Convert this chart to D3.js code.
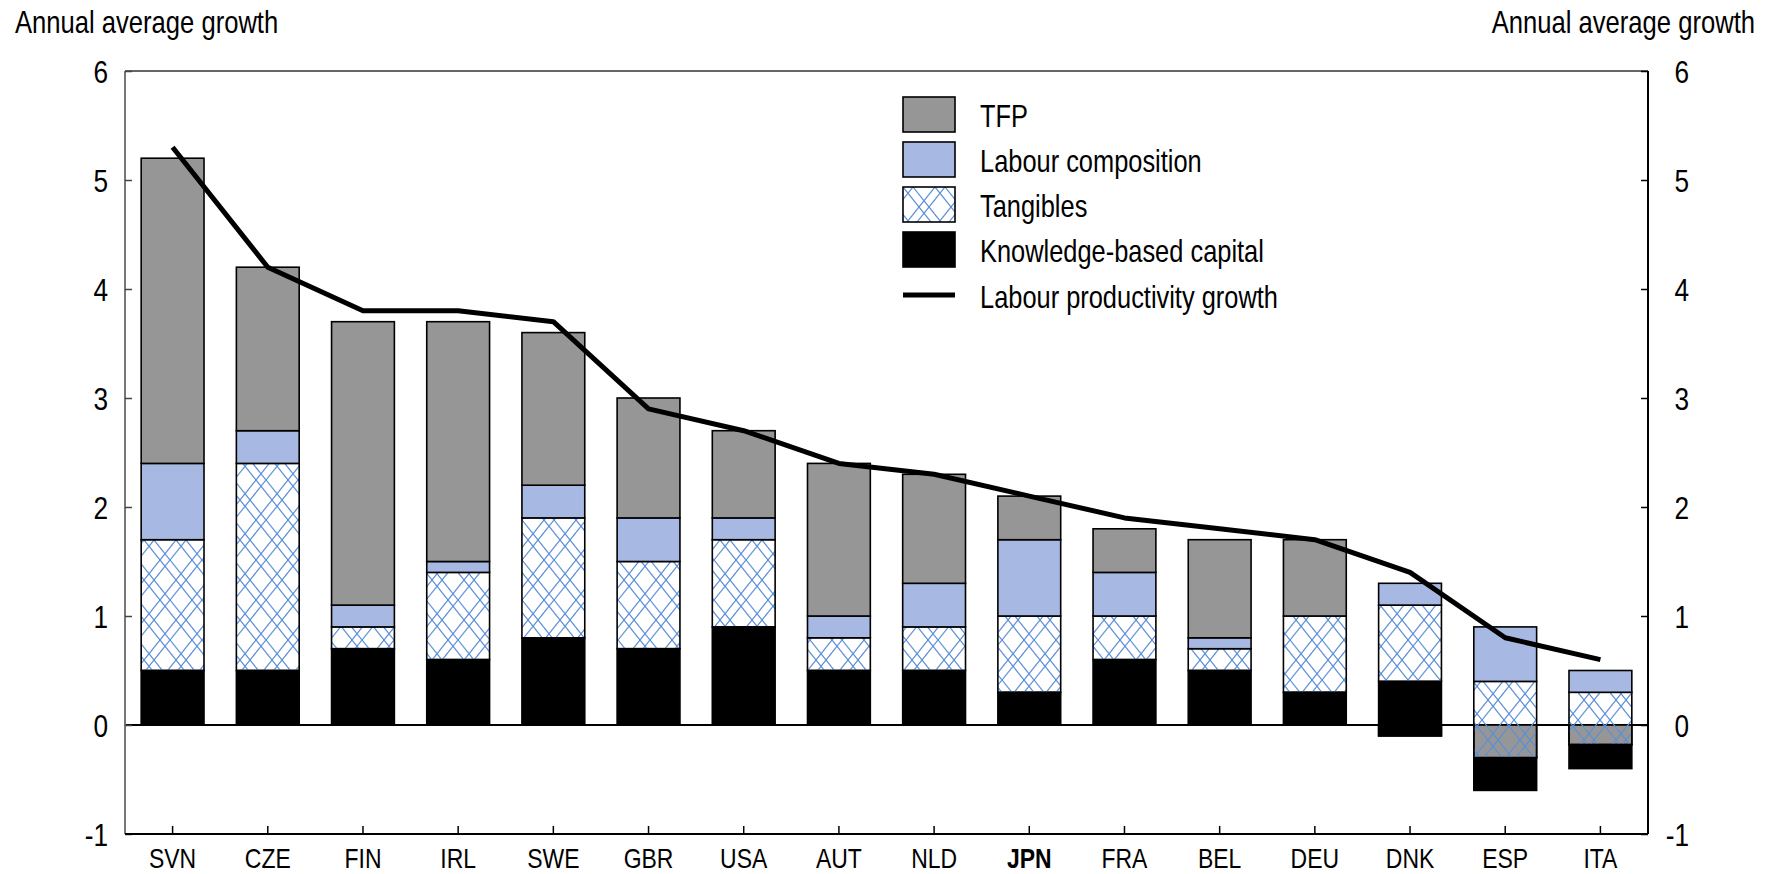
<!DOCTYPE html>
<html>
<head>
<meta charset="utf-8">
<script src="https://cdn.jsdelivr.net/npm/d3@7/dist/d3.min.js"></script>
<style>
  html, body { margin: 0; padding: 0; background: #fff; }
  svg { display: block; }
  text { font-family: 'Liberation Sans', Arial, sans-serif; fill: #000; }
</style>
</head>
<body>
<svg id="chart" width="1773" height="874"></svg>
<script>
// ---- Data (annual average growth, %) ----
const countries = ["SVN","CZE","FIN","IRL","SWE","GBR","USA","AUT","NLD","JPN","FRA","BEL","DEU","DNK","ESP","ITA"];
const kbc       = [0.5, 0.5, 0.7, 0.6, 0.8, 0.7, 0.9, 0.5, 0.5, 0.3, 0.6, 0.5, 0.3, 0.5, -0.3, -0.22];
const tangibles = [1.2, 1.9, 0.2, 0.8, 1.1, 0.8, 0.8, 0.3, 0.4, 0.7, 0.4, 0.2, 0.7, 0.7, 0.7, 0.48];
const labourComp= [0.7, 0.3, 0.2, 0.1, 0.3, 0.4, 0.2, 0.2, 0.4, 0.7, 0.4, 0.1, 0.0, 0.2, 0.5, 0.2];
const tfp       = [2.8, 1.5, 2.6, 2.2, 1.4, 1.1, 0.8, 1.4, 1.0, 0.4, 0.4, 0.9, 0.7, -0.1, -0.3, -0.18];
const lpg       = [5.3, 4.2, 3.8, 3.8, 3.7, 2.9, 2.7, 2.4, 2.3, 2.1, 1.9, 1.8, 1.7, 1.4, 0.8, 0.6];
const yTicks    = [-1, 0, 1, 2, 3, 4, 5, 6];
const axisTitle = "Annual average growth";
const legendItems = [
  {key: "tfp", label: "TFP"},
  {key: "lc", label: "Labour composition"},
  {key: "tang", label: "Tangibles"},
  {key: "kbc", label: "Knowledge-based capital"},
  {key: "line", label: "Labour productivity growth"}
];

// ---- Layout ----
const svg = d3.select("#chart");
const X0 = 125, X1 = 1648, Y0 = 71, Y1 = 834;

const x = d3.scaleBand().domain(countries).range([X0, X1]).paddingInner(0.34).paddingOuter(0.17);
const y = d3.scaleLinear().domain([-1, 6]).range([Y1, Y0]);
const cx = c => x(c) + x.bandwidth() / 2;

// narrow-face emulation: horizontal squeeze of a regular sans
function txt(parent, px, py, str, size, anchor, weight, sx) {
  return parent.append("text")
    .attr("transform", `translate(${px},${py}) scale(${sx || 0.82},1)`)
    .attr("font-size", size)
    .attr("text-anchor", anchor || "start")
    .attr("font-weight", weight || "normal")
    .text(str);
}

const fills = { tfp: "#969696", lc: "#a7b8e2", tang: "url(#hatch)", kbc: "#000000" };

// hatch pattern (transparent background, double diagonal lattice)
const defs = svg.append("defs");
const PW = 32, PH = 40;
const pat = defs.append("pattern").attr("id", "hatch").attr("patternUnits", "userSpaceOnUse")
  .attr("width", PW).attr("height", PH);
[0, 10].forEach(o => {
  [-1, 0, 1].forEach(k => {
    const a = o + PW * k;
    pat.append("path").attr("d", `M${a},0 L${a + PW},${PH}`);
    pat.append("path").attr("d", `M${a + PW},0 L${a},${PH}`);
  });
});
pat.selectAll("path").attr("stroke", "#5b8ed6").attr("stroke-width", 1.2).attr("fill", "none");

// zero line (behind bars)
svg.append("line").attr("x1", X0).attr("x2", X1).attr("y1", y(0)).attr("y2", y(0))
  .attr("stroke", "#000").attr("stroke-width", 2);

// ---- stacking: negative TFP sits next to zero, others stack from it ----
const segs = [];
countries.forEach((c, i) => {
  let base = 0, neg = 0;
  if (tfp[i] < 0) { segs.push({c, key: "tfp", y0: 0, y1: tfp[i]}); base = tfp[i]; neg = tfp[i]; }
  [["kbc", kbc], ["tang", tangibles], ["lc", labourComp]].forEach(([k, arr]) => {
    const v = arr[i];
    if (v === 0) return;
    if (v > 0) { segs.push({c, key: k, y0: base, y1: base + v}); base += v; }
    else { segs.push({c, key: k, y0: neg, y1: neg + v}); neg += v; }
  });
  if (tfp[i] > 0) segs.push({c, key: "tfp", y0: base, y1: base + tfp[i]});
});

svg.append("g").selectAll("rect").data(segs).join("rect")
  .attr("x", d => x(d.c))
  .attr("width", x.bandwidth())
  .attr("y", d => y(Math.max(d.y0, d.y1)))
  .attr("height", d => Math.abs(y(d.y0) - y(d.y1)))
  .attr("fill", d => fills[d.key])
  .attr("stroke", "#000").attr("stroke-width", 1.6);

// ---- line ----
const line = d3.line().x((d, i) => cx(countries[i])).y(d => y(d));
svg.append("path").datum(lpg).attr("d", line).attr("fill", "none")
  .attr("stroke", "#000").attr("stroke-width", 5).attr("stroke-linejoin", "round");

// ---- frame ----
svg.append("line").attr("x1", X0).attr("x2", X1).attr("y1", Y0).attr("y2", Y0).attr("stroke", "#666").attr("stroke-width", 2);
svg.append("line").attr("x1", X0).attr("x2", X0).attr("y1", Y0).attr("y2", Y1).attr("stroke", "#777").attr("stroke-width", 2);

// left axis (ticks only; labels drawn narrow)
const gL = svg.append("g").attr("transform", `translate(${X0},0)`)
  .call(d3.axisLeft(y).tickValues(yTicks).tickSize(-7).tickFormat(""));
gL.select(".domain").remove();
gL.selectAll(".tick line").attr("stroke", "#444").attr("stroke-width", 1.5);
yTicks.forEach(t => txt(svg, 108, y(t) + 11.5, String(t), 32, "end"));

// right axis
const gR = svg.append("g").attr("transform", `translate(${X1},0)`)
  .call(d3.axisRight(y).tickValues(yTicks).tickSize(-7).tickFormat(""));
gR.select(".domain").attr("stroke", "#000").attr("stroke-width", 2).attr("d", `M0,${Y0}V${Y1}`);
gR.selectAll(".tick line").attr("stroke", "#000").attr("stroke-width", 1.5);
yTicks.forEach(t => txt(svg, 1689, y(t) + 11.5, String(t), 32, "end"));

// bottom axis
const gB = svg.append("g").attr("transform", `translate(0,${Y1})`)
  .call(d3.axisBottom(x).tickSize(-8).tickFormat(""));
gB.select(".domain").attr("stroke", "#000").attr("stroke-width", 2).attr("d", `M${X0},0H${X1}`);
gB.selectAll(".tick line").attr("stroke", "#000").attr("stroke-width", 1.5);
countries.forEach(c => txt(svg, cx(c), 868, c, 28, "middle", c === "JPN" ? "bold" : "normal"));

// axis titles
txt(svg, 15, 33, axisTitle, 32, "start", "normal", 0.8);
txt(svg, 1755, 33, axisTitle, 32, "end", "normal", 0.8);

// ---- legend ----
const lg = svg.append("g").attr("transform", "translate(903,97)");
legendItems.forEach((it, i) => {
  const g = lg.append("g").attr("transform", `translate(0,${i * 45})`);
  if (it.key === "line") {
    g.append("line").attr("x1", 0).attr("x2", 52).attr("y1", 18).attr("y2", 18)
      .attr("stroke", "#000").attr("stroke-width", 5);
  } else {
    if (it.key === "tang") g.append("rect").attr("width", 52).attr("height", 35).attr("fill", "#fff");
    g.append("rect").attr("width", 52).attr("height", 35).attr("fill", fills[it.key])
      .attr("stroke", "#000").attr("stroke-width", 1.6);
  }
  txt(g, 77, it.key === "line" ? 31 : 30, it.label, 31, "start");
});
</script>
</body>
</html>
